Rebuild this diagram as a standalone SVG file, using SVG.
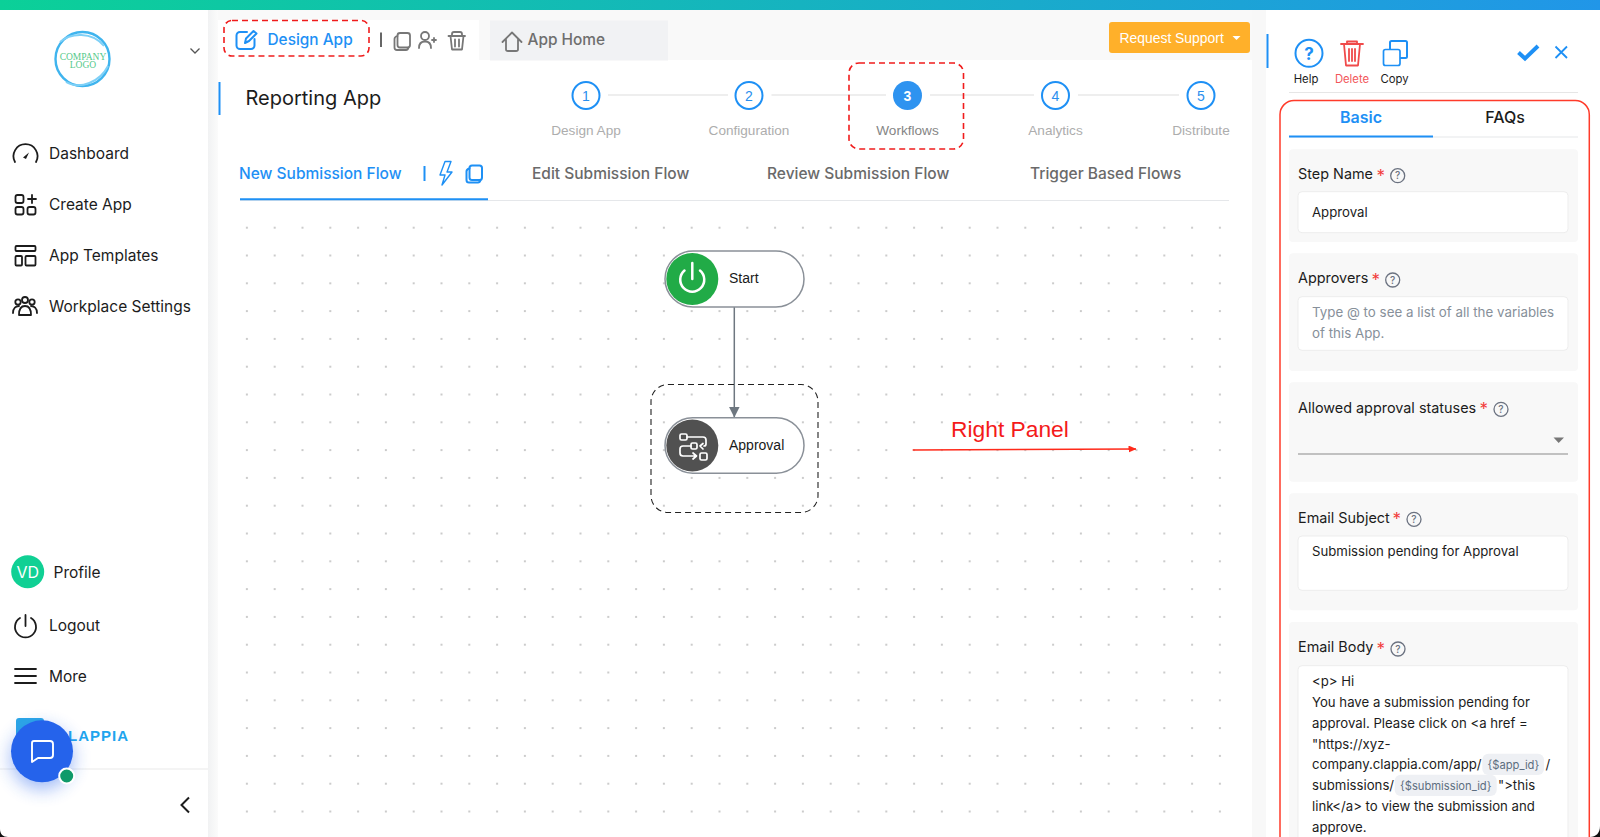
<svg xmlns="http://www.w3.org/2000/svg" width="1600" height="837" viewBox="0 0 1600 837">
<style>
text{font-family:Inter,"Liberation Sans",sans-serif}
.nav{font-size:15.5px;fill:#1c1c1c}
.tab{font-size:15.5px;font-weight:500;fill:#6a6a6a}
.step{font-family:"Liberation Sans",sans-serif;font-size:13.6px;fill:#adadad;text-anchor:middle}
.num{font-family:"Liberation Sans",sans-serif;font-size:14px;fill:#2a8fee;text-anchor:middle}
.sc{fill:#fff;stroke:#1e90f5;stroke-width:2}
.sl{stroke:#eeeeee;stroke-width:2}
.ic{fill:none;stroke:#1c1c1c;stroke-width:1.8;stroke-linecap:round;stroke-linejoin:round}
.icg{fill:none;stroke:#777;stroke-width:1.8;stroke-linecap:round;stroke-linejoin:round}
.icb{fill:none;stroke:#1e90f5;stroke-width:2;stroke-linecap:round;stroke-linejoin:round}
.icr{fill:none;stroke:#f04a4a;stroke-width:1.8;stroke-linecap:round;stroke-linejoin:round}
.red{fill:none;stroke:#f01c1c;stroke-width:1.6;stroke-dasharray:6 4}
.card{fill:#f8f8f8}
.inp{fill:#fff;stroke:#ededed;stroke-width:1}
.lab{font-size:14.4px;fill:#1c1c1c}
.star{font-size:17px;fill:#f23c3c}
.val{font-size:13.2px;fill:#1c1c1c}
.ph{font-size:13.35px;fill:#87909a}
.act{font-size:11.3px;fill:#1c1c1c;text-anchor:middle}
.pill{fill:#fff;stroke:#8a9098;stroke-width:1.5}
.nt{font-family:"Liberation Sans",sans-serif;font-size:14px;fill:#1a1a1a}
.q{fill:none;stroke:#6b7280;stroke-width:1.3}
.qt{font-size:10px;fill:#6b7280;text-anchor:middle;font-weight:500}
.chip{fill:#eef0f4}
.cht{font-size:11.2px;fill:#5d6e80}
</style>
<defs>
<linearGradient id="topg" x1="0" x2="1" y1="0" y2="0"><stop offset="0" stop-color="#0bd098"/><stop offset="1" stop-color="#2196e8"/></linearGradient>
<linearGradient id="gut" x1="0" x2="1" y1="0" y2="0"><stop offset="0" stop-color="#f1f2f3"/><stop offset="1" stop-color="#fbfbfb"/></linearGradient>
<pattern id="dots" x="233" y="213.8" width="27.8" height="27.8" patternUnits="userSpaceOnUse"><circle cx="13.9" cy="13.9" r="1.1" fill="#c0c0c0"/></pattern>
<marker id="ah" markerWidth="11" markerHeight="12" refX="5.5" refY="11" orient="0" markerUnits="userSpaceOnUse"><path d="M0 0H11L5.500 11Z" fill="#6e7780"/></marker>
<marker id="rh" markerWidth="8" markerHeight="8" refX="7.5" refY="3.5" orient="auto" markerUnits="userSpaceOnUse"><path d="M0 0L8 3.5L0 7Z" fill="#ff2a1a"/></marker>
<filter id="sh" x="-60%" y="-60%" width="220%" height="220%"><feGaussianBlur stdDeviation="9"/></filter>
<g id="copy"><rect x="3.5" y="0.5" width="12.5" height="14.5" rx="2.5"/><path d="M3.5 3.5C1.5 4 .5 5 .5 6.5V15c0 1.500 1 2.500 2.500 2.500h9c1 0 2-.5 2.500-2.500"/></g>
<g id="q"><circle r="7" class="q"/><text y="3.6" class="qt">?</text></g>
</defs>

<rect width="1600" height="837" fill="#fff"/>
<rect x="208" y="10" width="10" height="827" fill="url(#gut)"/>
<rect x="218" y="10" width="1048" height="50" fill="#f9f9f9"/>
<rect x="218" y="20" width="261" height="40" fill="#fff"/>
<rect x="1252" y="60" width="14" height="777" fill="#f8f8f8"/>
<rect x="1252" y="10" width="14" height="50" fill="#f8f8f8"/>
<rect width="1600" height="10" fill="url(#topg)"/>
<rect x="233" y="214" width="997" height="623" fill="url(#dots)"/>

<g id="sidebar">
<g id="logo">
<circle cx="82.5" cy="59" r="27" fill="#fff" stroke="#3fb4ee" stroke-width="2.4"/>
<path d="M60 42C70 33 92 31 104 46M66 82C80 90 100 82 108 66" fill="none" stroke="#7ed0f7" stroke-width="2"/>
<text x="83" y="60" text-anchor="middle" style="font-family:'Liberation Serif',serif;font-size:9.5px;fill:#55c98a">COMPANY</text>
<text x="83" y="68" text-anchor="middle" style="font-family:'Liberation Serif',serif;font-size:9.5px;fill:#55c98a">LOGO</text>
</g>
<path d="M190.500 48.500L195 53L199.500 48.500" fill="none" stroke="#555" stroke-width="1.300"/>
<g id="nav-dashboard"><path class="ic" d="M15 162A12 12 0 1 1 36 162"/><path d="M23 157.500L29 152.500L26 159Z" fill="#1c1c1c"/><text x="49" y="158.600" class="nav">Dashboard</text></g>
<g id="nav-create"><rect class="ic" x="15.500" y="195" width="8" height="8" rx="2"/><path class="ic" d="M28 199H36M32 195V203"/><rect class="ic" x="15.500" y="207" width="8" height="7.500" rx="2"/><rect class="ic" x="27.500" y="207" width="8" height="7.500" rx="2"/><text x="49" y="210" class="nav">Create App</text></g>
<g id="nav-templates"><rect class="ic" x="15.500" y="246" width="20" height="5" rx="1"/><rect class="ic" x="15.500" y="256" width="6.500" height="9.500" rx="1"/><rect class="ic" x="25.500" y="256" width="10" height="9.500" rx="1"/><text x="49" y="261.400" class="nav">App Templates</text></g>
<g id="nav-settings"><circle class="ic" cx="18" cy="302" r="2.700"/><circle class="ic" cx="25" cy="300" r="3"/><circle class="ic" cx="32" cy="302" r="2.700"/><path class="ic" d="M13 313C13 308 16 306 19 306M37 313C37 308 34 306 31 306M19 315C19 308 22 306 25 306S31 308 31 315Z"/><text x="49" y="312.400" class="nav">Workplace Settings</text></g>
<g id="nav-profile"><circle cx="27.700" cy="571.700" r="16.500" fill="#10d094"/><text x="27.700" y="577.500" text-anchor="middle" style="font-size:16px;fill:#fff">VD</text><text x="53.500" y="577.500" class="nav">Profile</text></g>
<g id="nav-logout"><path class="ic" d="M20 618A10.500 10.500 0 1 0 31 618M25.500 615V626"/><text x="49" y="630.800" class="nav">Logout</text></g>
<g id="nav-more"><path class="ic" d="M15 669H36M15 676H36M15 683H36"/><text x="49" y="681.500" class="nav">More</text></g>
<g id="brand"><rect x="16" y="718" width="28" height="28" rx="3" fill="#2ca6e6"/><text x="129" y="741" text-anchor="end" style="font-family:'Liberation Sans',sans-serif;font-size:15px;font-weight:700;letter-spacing:1px;fill:#1fa5ee">CLAPPIA</text></g>
<line x1="0" y1="769" x2="208" y2="769" stroke="#e9e9e9" stroke-width="1.200"/>
<path d="M189 797.500L181.500 805L189 812.500" fill="none" stroke="#1c1c1c" stroke-width="2"/>
</g>

<g id="chat">
<circle cx="42" cy="758" r="31" fill="#2563eb" opacity=".45" filter="url(#sh)"/>
<circle cx="42" cy="751.300" r="31" fill="#2563eb"/>
<path d="M34 741H50A3 3 0 0 1 53 744V755A3 3 0 0 1 50 758H38L32 762V743A2 2 0 0 1 34 741Z" fill="none" stroke="#fff" stroke-width="1.900" stroke-linejoin="round"/>
<circle cx="66.700" cy="776" r="7.500" fill="#0f9a6a" stroke="#fff" stroke-width="2"/>
</g>

<g id="header-left">
<rect class="red" x="224" y="20.500" width="145" height="35.500" rx="8"/>
<path class="icb" d="M247 32H240A3.500 3.500 0 0 0 236.500 35.500V45.500A3.500 3.500 0 0 0 240 49H251A3.500 3.500 0 0 0 254.500 45.500V39"/>
<path class="icb" d="M245 43L246 38.500L253.500 31L256.500 33.500L249 41Z" stroke-width="1.500"/>
<text x="267.500" y="44.800" style="font-size:15.400px;font-weight:500;fill:#1e90f5">Design App</text>
<line x1="381" y1="32.500" x2="381" y2="47" stroke="#666" stroke-width="2"/>
<use href="#copy" x="394" y="32.500" class="icg"/>
<g class="icg" stroke-width="1.500"><circle cx="425" cy="36" r="4"/><path d="M419 48C419 43 421 41.500 425 41.500S431 43 431 48M432 40H436M434 38V42"/></g>
<g class="icg"><path d="M448.500 36H465M452 36V34A2 2 0 0 1 454 32H460A2 2 0 0 1 462 34V36M450.500 36L452 49.500H462L463.500 36M455 39.500V46.500M459 39.500V46.500"/></g>
</g>

<g id="app-home">
<rect x="490" y="20.500" width="178" height="40" fill="#f1f2f4"/>
<path class="icg" d="M502.500 42L512 32.500L521.500 42M506 39.500V49.500C506 50.500 507 51 508 51H516C517 51 518 50.500 518 49.500V39.500"/>
<text x="527.500" y="45.300" style="font-size:15.400px;font-weight:500;fill:#6e6e6e">App Home</text>
</g>

<g id="request-support">
<rect x="1109" y="22" width="141" height="31" rx="3" fill="#ffb02a"/>
<text x="1119.500" y="42.500" style="font-family:'Liberation Sans',sans-serif;font-size:13.900px;fill:#fff">Request Support</text>
<path d="M1232.500 36H1240.500L1236.500 40Z" fill="#fff"/>
</g>

<rect x="218.500" y="82" width="2" height="33" fill="#1e90f5"/>
<text x="245.500" y="105" style="font-size:20px;fill:#1c1c1c">Reporting App</text>

<g id="stepper">
<line class="sl" x1="608" y1="95" x2="728" y2="95"/><line class="sl" x1="771.500" y1="95" x2="886" y2="95"/><line class="sl" x1="930" y1="95" x2="1034" y2="95"/><line class="sl" x1="1078" y1="95" x2="1179" y2="95"/>
<g id="step-1"><circle class="sc" cx="586" cy="95.500" r="13.500"/><text class="num" x="586" y="100.500">1</text><text class="step" x="586" y="135">Design App</text></g>
<g id="step-2"><circle class="sc" cx="749" cy="95.500" r="13.500"/><text class="num" x="749" y="100.500">2</text><text class="step" x="749" y="135">Configuration</text></g>
<g id="step-3"><circle cx="907.500" cy="95.500" r="14.500" fill="#2e93f0"/><text class="num" x="907.500" y="100.500" style="fill:#fff;font-weight:700">3</text><text class="step" x="907.500" y="135" style="fill:#858585">Workflows</text></g>
<g id="step-4"><circle class="sc" cx="1055.500" cy="95.500" r="13.500"/><text class="num" x="1055.500" y="100.500">4</text><text class="step" x="1055.500" y="135">Analytics</text></g>
<g id="step-5"><circle class="sc" cx="1201" cy="95.500" r="13.500"/><text class="num" x="1201" y="100.500">5</text><text class="step" x="1201" y="135">Distribute</text></g>
<rect class="red" x="849" y="63" width="114.500" height="86" rx="10"/>
</g>

<g id="tabs">
<line x1="240" y1="200.500" x2="1229" y2="200.500" stroke="#e5e7ea" stroke-width="1.200"/>
<line x1="240" y1="199.300" x2="488" y2="199.300" stroke="#1e90f5" stroke-width="2"/>
<text x="239" y="178.600" class="tab" style="fill:#1e90f5">New Submission Flow</text>
<line x1="424.500" y1="166" x2="424.500" y2="181" stroke="#1e90f5" stroke-width="2"/>
<path d="M445 161.500H451L447 172H452L442 185L445 175H440Z" fill="none" stroke="#1e90f5" stroke-width="1.400" stroke-linejoin="round"/>
<use href="#copy" x="466" y="165" class="icb" stroke-width="1.600"/>
<text x="532" y="178.600" class="tab">Edit Submission Flow</text>
<text x="767" y="178.600" class="tab">Review Submission Flow</text>
<text x="1030" y="178.600" class="tab">Trigger Based Flows</text>
</g>

<g id="connectors">
<line x1="734.300" y1="306.700" x2="734.300" y2="417.500" stroke="#6e7780" stroke-width="1.500" marker-end="url(#ah)"/>
</g>

<g id="node-start">
<rect class="pill" x="665" y="251" width="139" height="56" rx="28"/>
<circle cx="692.300" cy="279" r="26" fill="#21ab47"/>
<path d="M684.500 270.500A12 12 0 1 0 700 270.500M692.300 263V279" fill="none" stroke="#fff" stroke-width="2.500" stroke-linecap="round"/>
<text class="nt" x="729" y="283">Start</text>
</g>
<g id="node-approval">
<rect class="pill" x="665" y="417.700" width="139" height="55.500" rx="27.700"/>
<circle cx="692.300" cy="445.500" r="26" fill="#515151"/>
<g fill="none" stroke="#fff" stroke-width="1.700" stroke-linecap="round" stroke-linejoin="round">
<rect x="680" y="434" width="7" height="6" rx="1.500"/><path d="M687 437H703A3 3 0 0 1 706 440V444A2 2 0 0 1 704 446"/><path d="M703 443.500L700 446L703 449"/><rect x="691" y="443" width="6" height="6" rx="1.500"/><path d="M691 446H683A3 3 0 0 0 680 449V453A3 3 0 0 0 683 456H696M693 453L696.500 456L693 459"/><rect x="700" y="453" width="7" height="7" rx="1.500"/>
</g>
<text class="nt" x="729" y="450">Approval</text>
</g>
<g id="selection"><rect x="651" y="384.500" width="167" height="128" rx="17" fill="none" stroke="#222" stroke-width="1.100" stroke-dasharray="6 4"/></g>

<g id="right-panel-label">
<text x="951" y="437" style="font-family:'Liberation Sans',sans-serif;font-size:22.800px;fill:#f41a1a">Right Panel</text>
<line x1="912.700" y1="450" x2="1136" y2="449" stroke="#ff2a1a" stroke-width="1.400" marker-end="url(#rh)"/>
</g>

<g id="panel">
<rect x="1266.500" y="34" width="2" height="34" fill="#1e90f5"/>
<g id="act-help"><circle cx="1309" cy="53.300" r="13.500" fill="none" stroke="#1e90f5" stroke-width="2"/><text x="1309" y="59.500" text-anchor="middle" style="font-size:17px;font-weight:700;fill:#1e90f5">?</text><text class="act" x="1306" y="83">Help</text></g>
<g id="act-delete"><path class="icr" d="M1341 44H1363M1347 44V41.500H1357V44M1344 44L1346 65.500H1358L1360 44M1349 49V61M1352 49V61M1355 49V61"/><text class="act" x="1352" y="83" style="fill:#f2565a">Delete</text></g>
<g id="act-copy"><rect class="icb" x="1390" y="41" width="17" height="17" rx="1.500" stroke-width="1.500"/><rect x="1383.500" y="49.500" width="16.500" height="16" rx="2" fill="#fff" stroke="#1e90f5" stroke-width="1.700"/><text class="act" x="1394.500" y="83">Copy</text></g>
<path d="M1518.500 52.500L1525 58.500L1538 46" fill="none" stroke="#1e90f5" stroke-width="4"/>
<path d="M1555.500 46.500L1567 58M1567 46.500L1555.500 58" stroke="#1e90f5" stroke-width="1.800"/>
<line x1="1289" y1="92.500" x2="1578" y2="92.500" stroke="#e6e6e6" stroke-width="1"/>
<rect x="1280" y="100.500" width="309.300" height="760" rx="14" fill="none" stroke="#ff3b2a" stroke-width="1.500"/>
<line x1="1289" y1="137" x2="1578" y2="137" stroke="#e6e7e9" stroke-width="1.200"/>
<line x1="1289" y1="136.500" x2="1433" y2="136.500" stroke="#1e90f5" stroke-width="2"/>
<text x="1361" y="122.800" text-anchor="middle" style="font-size:16px;font-weight:600;fill:#1e90f5">Basic</text>
<text x="1505" y="122.800" text-anchor="middle" style="font-size:16px;font-weight:500;fill:#1c1c1c">FAQs</text>

<g id="field-step-name">
<rect class="card" x="1289" y="149.300" width="289" height="92.700" rx="4"/>
<text class="lab" x="1298" y="179.300">Step Name</text><text class="star" x="1376.500" y="181.500">*</text><use href="#q" x="1397.700" y="175.700"/>
<rect class="inp" x="1298" y="191.700" width="270" height="41" rx="4"/>
<text class="val" x="1312" y="217">Approval</text>
</g>
<g id="field-approvers">
<rect class="card" x="1289" y="253.300" width="289" height="117.700" rx="4"/>
<text class="lab" x="1298" y="283.300">Approvers</text><text class="star" x="1371.500" y="285.500">*</text><use href="#q" x="1392.700" y="280"/>
<rect class="inp" x="1298" y="296.700" width="270" height="53.600" rx="4"/>
<text class="ph" x="1312" y="317">Type @ to see a list of all the variables</text>
<text class="ph" x="1312" y="337.700">of this App.</text>
</g>
<g id="field-statuses">
<rect class="card" x="1289" y="382.300" width="289" height="99.400" rx="4"/>
<text class="lab" x="1298" y="412.800">Allowed approval statuses</text><text class="star" x="1479.500" y="414.500">*</text><use href="#q" x="1501" y="409.300"/>
<line x1="1298" y1="454" x2="1568" y2="454" stroke="#8a8a8a" stroke-width="1"/>
<path d="M1553.500 437.500H1564L1558.700 443Z" fill="#777"/>
</g>
<g id="field-subject">
<rect class="card" x="1289" y="493.300" width="289" height="117" rx="4"/>
<text class="lab" x="1298" y="523">Email Subject</text><text class="star" x="1392.500" y="525">*</text><use href="#q" x="1414" y="519.300"/>
<rect class="inp" x="1298" y="536" width="270" height="54.300" rx="4"/>
<text class="val" x="1312" y="556.300">Submission pending for Approval</text>
</g>
<g id="field-body">
<rect class="card" x="1289" y="622" width="289" height="240" rx="4"/>
<text class="lab" x="1298" y="652.300">Email Body</text><text class="star" x="1376.500" y="654.500">*</text><use href="#q" x="1398" y="649"/>
<rect class="inp" x="1298" y="665.700" width="270" height="190" rx="4"/>
<text class="val" x="1312" y="686">&lt;p&gt; Hi</text>
<text class="val" x="1312" y="706.500">You have a submission pending for</text>
<text class="val" x="1312" y="727.500">approval. Please click on &lt;a href =</text>
<text class="val" x="1312" y="748.500">"https://xyz-</text>
<text class="val" x="1312" y="769.300">company.clappia.com/app/</text>
<rect class="chip" x="1482.300" y="753.700" width="61.700" height="21.300" rx="6"/>
<text class="cht" x="1487.500" y="768.500">{$app_id}</text>
<text class="val" x="1545.500" y="769.300">/</text>
<text class="val" x="1312" y="790.300">submissions/</text>
<rect class="chip" x="1394.700" y="774.700" width="102" height="21.300" rx="6"/>
<text class="cht" x="1400" y="789.500">{$submission_id}</text>
<text class="val" x="1498" y="790.300">"&gt;this</text>
<text class="val" x="1312" y="811.300">link&lt;/a&gt; to view the submission and</text>
<text class="val" x="1312" y="832">approve.</text>
</g>
</g>

<path d="M0 829C0 834 3 837 8 837H0Z" fill="#111"/>
<path d="M1600 826C1600 833 1596 837 1590 837H1600Z" fill="#111"/>
</svg>
